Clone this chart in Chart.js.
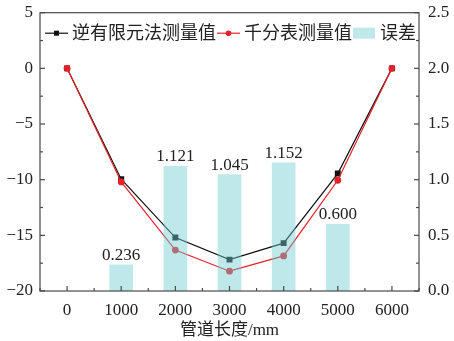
<!DOCTYPE html>
<html>
<head>
<meta charset="utf-8">
<script src="https://cdn.jsdelivr.net/npm/chart.js@4/dist/chart.umd.min.js"></script>
<style>
  html, body { margin: 0; padding: 0; background: #fff; }
  #wrap { width: 454px; height: 341px; }
</style>
</head>
<body>
<div id="wrap"><canvas id="myChart" width="454" height="341"></canvas></div>
<script>
// 数据
const lengths = [0, 1000, 2000, 3000, 4000, 5000, 6000];
const inverseFem = [0, -9.96, -15.2, -17.18, -15.7, -9.45, 0];
const dialGauge = [0, -10.2, -16.32, -18.22, -16.85, -10.05, 0];
const errorPositions = [1000, 2000, 3000, 4000, 5000];
const errorValues = [0.236, 1.121, 1.045, 1.152, 0.600];
const seriesNames = ['逆有限元法测量值', '千分表测量值', '误差'];
const xTicks = [0, 1000, 2000, 3000, 4000, 5000, 6000];
const yTicks = [-20, -15, -10, -5, 0, 5];
const y2Ticks = [0, 0.5, 1.0, 1.5, 2.0, 2.5];

const FONT = "'Liberation Serif', 'Noto Sans CJK SC', serif";
const AXIS = '#4a4a4a';
const TEXT = '#222';
const BAR = 'rgba(111, 204, 208, 0.45)';
const BLACK = '#111';
const RED = '#e8202a';

// 框线、内向刻度、图例、柱顶标注
const decorPlugin = {
  id: 'decor',
  afterDatasetsDraw(chart) {
    const { ctx, chartArea: a, scales } = chart;
    ctx.save();

    // bar labels
    const barMeta = chart.getDatasetMeta(0);
    ctx.font = '17px ' + FONT;
    ctx.fillStyle = TEXT;
    ctx.textAlign = 'center';
    ctx.textBaseline = 'bottom';
    barMeta.data.forEach((el, i) => {
      ctx.fillText(errorValues[i].toFixed(3), el.x, el.y - 1);
    });

    // frame
    ctx.strokeStyle = AXIS;
    ctx.lineWidth = 1.2;
    ctx.strokeRect(a.left, a.top, a.right - a.left, a.bottom - a.top);

    // ticks pointing inwards
    const tick = (x1, y1, x2, y2) => {
      ctx.beginPath(); ctx.moveTo(x1, y1); ctx.lineTo(x2, y2); ctx.stroke();
    };
    for (let v = -500; v <= 6500; v += 500) {
      const px = scales.x.getPixelForValue(v);
      const len = v % 1000 === 0 ? 5 : 3;
      tick(px, a.bottom, px, a.bottom - len);
    }
    for (let v = -20; v <= 5; v += 2.5) {
      const py = scales.y.getPixelForValue(v);
      const len = v % 5 === 0 ? 5 : 3;
      tick(a.left, py, a.left + len, py);
    }
    for (let v = 0; v <= 2.5001; v += 0.25) {
      const py = scales.y2.getPixelForValue(v);
      const len = Math.abs(v * 2 - Math.round(v * 2)) < 1e-6 ? 5 : 3;
      tick(a.right, py, a.right - len, py);
    }

    // legend
    const ly = a.top + 20.5;
    let lx = a.left + 5;
    ctx.font = '18px ' + FONT;
    ctx.textAlign = 'left';
    ctx.textBaseline = 'middle';
    const symbols = [
      { type: 'line', color: BLACK, marker: 'rect' },
      { type: 'line', color: RED, marker: 'circle' },
      { type: 'box', color: BAR }
    ];
    symbols.forEach((s, i) => {
      if (s.type === 'line') {
        ctx.strokeStyle = s.color;
        ctx.lineWidth = 1.2;
        tick(lx, ly, lx + 23, ly);
        ctx.fillStyle = s.color;
        if (s.marker === 'rect') {
          ctx.fillRect(lx + 9, ly - 2.5, 5, 5);
        } else {
          ctx.beginPath(); ctx.arc(lx + 11.5, ly, 2.8, 0, Math.PI * 2); ctx.fill();
        }
      } else {
        ctx.fillStyle = s.color;
        ctx.fillRect(lx, ly - 5.5, 22, 11);
      }
      lx += 27;
      ctx.fillStyle = TEXT;
      ctx.fillText(seriesNames[i], lx, ly + 1);
      lx += ctx.measureText(seriesNames[i]).width + 1;
    });

    ctx.restore();
  }
};

const minus = (v) => String(v).replace('-', '\u2212');

new Chart(document.getElementById('myChart'), {
  type: 'line',
  data: {
    datasets: [
      {
        type: 'bar',
        label: seriesNames[2],
        data: errorPositions.map((x, i) => ({ x, y: errorValues[i] })),
        backgroundColor: BAR,
        borderWidth: 0,
        barThickness: 23,
        xAxisID: 'x',
        yAxisID: 'y2',
        order: 0
      },
      {
        label: seriesNames[0],
        data: lengths.map((x, i) => ({ x, y: inverseFem[i] })),
        borderColor: BLACK,
        backgroundColor: BLACK,
        borderWidth: 1.2,
        pointStyle: 'rect',
        pointRadius: 4.2,
        pointBorderWidth: 0,
        tension: 0,
        yAxisID: 'y',
        order: 2
      },
      {
        label: seriesNames[1],
        data: lengths.map((x, i) => ({ x, y: dialGauge[i] })),
        borderColor: RED,
        backgroundColor: RED,
        borderWidth: 1.2,
        pointStyle: 'circle',
        pointRadius: 3.4,
        pointBorderWidth: 0,
        tension: 0,
        yAxisID: 'y',
        order: 1
      }
    ]
  },
  options: {
    responsive: false,
    animation: false,
    layout: { padding: { top: 12.7, left: 0, right: 0, bottom: 0 } },
    plugins: {
      legend: { display: false },
      tooltip: { enabled: false }
    },
    scales: {
      x: {
        type: 'linear',
        min: -500,
        max: 6500,
        offset: false,
        grid: { display: false, drawTicks: false },
        border: { display: false },
        afterBuildTicks: (s) => { s.ticks = xTicks.map((v) => ({ value: v })); },
        afterFit: (s) => { s.height = 50; s.paddingLeft = 0; s.paddingRight = 0; },
        ticks: {
          color: TEXT,
          padding: 9,
          maxRotation: 0,
          font: { family: FONT, size: 17 },
          callback: (v) => String(v)
        },
        title: {
          display: true,
          text: '管道长度/mm',
          color: TEXT,
          padding: { top: 0, bottom: 0 },
          font: { family: FONT, size: 17 }
        }
      },
      y: {
        position: 'left',
        min: -20,
        max: 5,
        grid: { display: false, drawTicks: false },
        border: { display: false },
        afterBuildTicks: (s) => { s.ticks = yTicks.map((v) => ({ value: v })); },
        afterFit: (s) => { s.width = 40; s.paddingTop = 0; s.paddingBottom = 0; },
        ticks: {
          color: TEXT,
          padding: 7,
          font: { family: FONT, size: 17 },
          callback: (v) => minus(v)
        }
      },
      y2: {
        position: 'right',
        min: 0,
        max: 2.5,
        grid: { display: false, drawTicks: false },
        border: { display: false },
        afterBuildTicks: (s) => { s.ticks = y2Ticks.map((v) => ({ value: v })); },
        afterFit: (s) => { s.width = 35; s.paddingTop = 0; s.paddingBottom = 0; },
        ticks: {
          color: TEXT,
          padding: 9,
          font: { family: FONT, size: 17 },
          callback: (v) => Number(v).toFixed(1)
        }
      }
    }
  },
  plugins: [decorPlugin]
});
</script>
</body>
</html>
